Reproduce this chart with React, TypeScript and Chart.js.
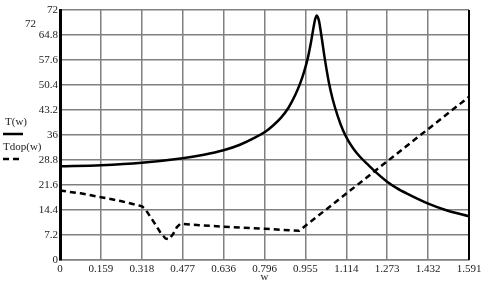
import React, { useEffect, useRef } from 'react';
import { Chart, registerables } from 'chart.js';

Chart.register(...registerables);

const xTickLabels = ['0', '0.159', '0.318', '0.477', '0.636', '0.796', '0.955', '1.114', '1.273', '1.432', '1.591'];
const yTickLabels = ['0', '7.2', '14.4', '21.6', '28.8', '36', '43.2', '50.4', '57.6', '64.8', '72'];
const X_MAX = 1.591;
const Y_MAX = 72;

const tW = [0, 0.159, 0.318, 0.477, 0.56, 0.636, 0.7, 0.76, 0.8, 0.83, 0.86, 0.89, 0.915, 0.935, 0.95, 0.965, 0.978, 0.99, 0.998, 1.007, 1.017, 1.03, 1.045, 1.06, 1.08, 1.1, 1.12, 1.14, 1.166, 1.2, 1.224, 1.27, 1.31, 1.35, 1.43, 1.5, 1.591];
const tValues = [27.0, 27.3, 28.0, 29.3, 30.3, 31.6, 33.2, 35.3, 37.0, 38.8, 41.0, 44.0, 47.5, 51.0, 54.3, 58.5, 63.4, 68.5, 70.4, 69.0, 64.5, 58.0, 51.5, 46.5, 41.5, 37.5, 34.5, 32.2, 29.8, 27.3, 25.6, 22.7, 20.7, 19.1, 16.3, 14.4, 12.6];

const tdopW = [0, 0.08, 0.159, 0.24, 0.318, 0.33, 0.36, 0.39, 0.41, 0.425, 0.44, 0.455, 0.468, 0.636, 0.796, 0.93, 1.591];
const tdopValues = [20.0, 19.2, 18.1, 16.9, 15.5, 14.8, 11.5, 8.0, 6.2, 6.0, 7.5, 9.5, 10.4, 9.6, 9.0, 8.4, 47.0];

const legendTop = '72';
const seriesNames = ['T(w)', 'Tdop(w)'];
const xTitle = 'w';

const FONT = "'Liberation Serif', 'Times New Roman', serif";

export default function App() {
  const ref = useRef<HTMLCanvasElement | null>(null);

  useEffect(() => {
    if (!ref.current) return;
    const overlay = {
      id: 'overlay',
      afterDraw(chart: any) {
        const ctx = chart.ctx;
        const a = chart.chartArea;
        ctx.save();
        ctx.strokeStyle = '#000';
        ctx.lineWidth = 2;
        ctx.beginPath();
        ctx.moveTo(a.right, a.top);
        ctx.lineTo(a.right, a.bottom);
        ctx.stroke();
        ctx.fillStyle = '#222';
        ctx.font = `11px ${FONT}`;
        ctx.textBaseline = 'middle';
        ctx.textAlign = 'left';
        ctx.fillText(legendTop, 25, 24);
        ctx.fillText(seriesNames[0], 5, 122);
        ctx.fillText(seriesNames[1], 3, 147);
        ctx.lineWidth = 2.5;
        ctx.beginPath();
        ctx.moveTo(3, 134);
        ctx.lineTo(23, 134);
        ctx.stroke();
        ctx.setLineDash([6, 4]);
        ctx.beginPath();
        ctx.moveTo(3, 159);
        ctx.lineTo(23, 159);
        ctx.stroke();
        ctx.restore();
      },
    };

    const chart = new Chart(ref.current, {
      type: 'line',
      data: {
        datasets: [
          {
            label: seriesNames[0],
            data: tW.map((w, i) => ({ x: w, y: tValues[i] })),
            borderColor: '#000',
            borderWidth: 2.5,
            pointRadius: 0,
            cubicInterpolationMode: 'monotone',
            fill: false,
          },
          {
            label: seriesNames[1],
            data: tdopW.map((w, i) => ({ x: w, y: tdopValues[i] })),
            borderColor: '#000',
            borderWidth: 2.5,
            borderDash: [6, 4],
            pointRadius: 0,
            tension: 0,
            fill: false,
          },
        ],
      },
      options: {
        animation: false,
        responsive: false,
        layout: { padding: { left: 0, right: 21, top: 10, bottom: 0 } },
        plugins: { legend: { display: false }, tooltip: { enabled: false } },
        scales: {
          x: {
            type: 'linear',
            min: 0,
            max: X_MAX,
            afterBuildTicks: (axis: any) => {
              axis.ticks = xTickLabels.map((_, i) => ({ value: (i * X_MAX) / 10 }));
            },
            afterFit: (axis: any) => {
              axis.height = 33;
            },
            ticks: {
              autoSkip: false,
              maxRotation: 0,
              padding: 3,
              color: '#222',
              font: { family: FONT, size: 11 },
              callback: (_v: any, i: number) => xTickLabels[i],
            },
            grid: { color: '#808080', lineWidth: 1.5, drawTicks: false },
            border: { display: true, color: '#808080', width: 1.5 },
            title: {
              display: true,
              text: xTitle,
              color: '#222',
              font: { family: FONT, size: 11 },
              padding: { top: 0, bottom: 9 },
            },
          },
          y: {
            type: 'linear',
            min: 0,
            max: Y_MAX,
            afterBuildTicks: (axis: any) => {
              axis.ticks = yTickLabels.map((_, i) => ({ value: (i * Y_MAX) / 10 }));
            },
            afterFit: (axis: any) => {
              axis.width = 60;
            },
            ticks: {
              autoSkip: false,
              padding: 2,
              color: '#222',
              font: { family: FONT, size: 11 },
              callback: (_v: any, i: number) => yTickLabels[i],
            },
            grid: { color: '#808080', lineWidth: 1.5, drawTicks: false },
            border: { display: true, color: '#000', width: 3 },
          },
        },
      },
      plugins: [overlay],
    } as any);
    return () => chart.destroy();
  }, []);

  return (
    <div style={{ position: 'absolute', left: 0, top: 0, width: 490, height: 293, background: '#fff' }}>
      <canvas ref={ref} width={490} height={293} style={{ display: 'block', width: 490, height: 293 }} />
    </div>
  );
}
